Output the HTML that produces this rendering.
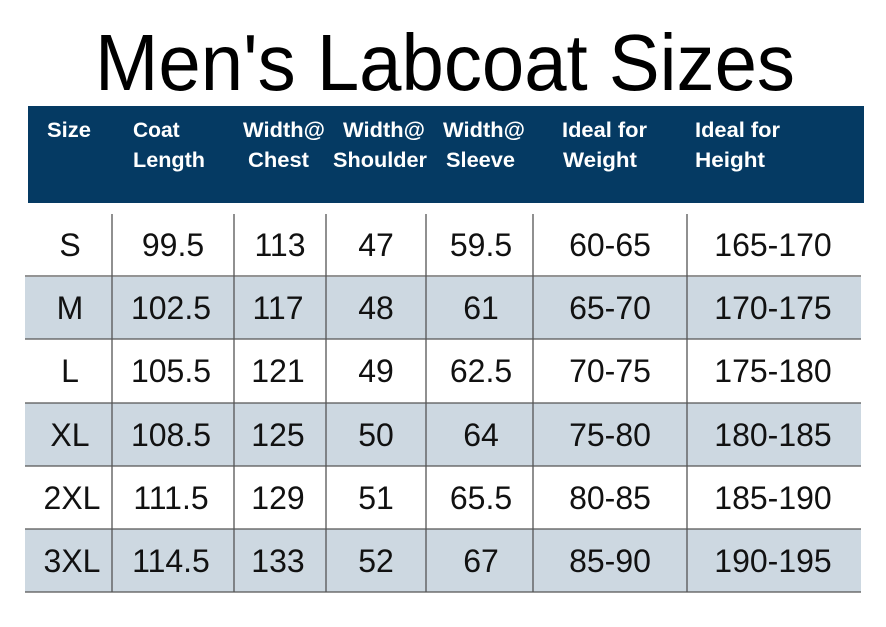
<!DOCTYPE html>
<html><head><style>body{margin:0;background:#fff}svg{display:block}</style></head>
<body>
<svg width="886" height="627" xmlns="http://www.w3.org/2000/svg" font-family="Liberation Sans, sans-serif">
<rect width="886" height="627" fill="#fff"/>
<text x="95" y="90" font-size="80" textLength="700" lengthAdjust="spacingAndGlyphs" fill="#000">Men's Labcoat Sizes</text>
<rect x="28" y="106" width="836" height="97" fill="#053a63"/>
<g fill="#fff" font-weight="bold" font-size="21">
<text x="47" y="137" textLength="44" lengthAdjust="spacingAndGlyphs">Size</text>
<text x="133" y="137">Coat</text><text x="133" y="167" textLength="72" lengthAdjust="spacingAndGlyphs">Length</text>
<text x="243" y="137" textLength="82" lengthAdjust="spacingAndGlyphs">Width@</text><text x="248" y="167" textLength="61" lengthAdjust="spacingAndGlyphs">Chest</text>
<text x="343" y="137" textLength="82" lengthAdjust="spacingAndGlyphs">Width@</text><text x="333" y="167" textLength="94" lengthAdjust="spacingAndGlyphs">Shoulder</text>
<text x="443" y="137" textLength="82" lengthAdjust="spacingAndGlyphs">Width@</text><text x="446" y="167" textLength="69" lengthAdjust="spacingAndGlyphs">Sleeve</text>
<text x="562" y="137" textLength="85" lengthAdjust="spacingAndGlyphs">Ideal for</text><text x="563" y="167" textLength="74" lengthAdjust="spacingAndGlyphs">Weight</text>
<text x="695" y="137" textLength="85" lengthAdjust="spacingAndGlyphs">Ideal for</text><text x="695" y="167" textLength="70" lengthAdjust="spacingAndGlyphs">Height</text>
</g>
<g fill="#cdd8e1">
<rect x="25" y="277" width="836" height="62"/>
<rect x="25" y="403" width="836" height="63"/>
<rect x="25" y="529" width="836" height="63"/>
</g>
<g stroke="#555" stroke-width="1.3">
<line x1="25" y1="276" x2="861" y2="276"/><line x1="25" y1="339" x2="861" y2="339"/>
<line x1="25" y1="403" x2="861" y2="403"/><line x1="25" y1="466" x2="861" y2="466"/>
<line x1="25" y1="529" x2="861" y2="529"/><line x1="25" y1="592" x2="861" y2="592"/>
<line x1="112" y1="214" x2="112" y2="592"/><line x1="234" y1="214" x2="234" y2="592"/>
<line x1="326" y1="214" x2="326" y2="592"/><line x1="426" y1="214" x2="426" y2="592"/>
<line x1="533" y1="214" x2="533" y2="592"/><line x1="687" y1="214" x2="687" y2="592"/>
</g>
<g font-size="32" fill="#111" text-anchor="middle">
<g transform="translate(0,256)"><text x="70">S</text><text x="173">99.5</text><text x="280">113</text><text x="376">47</text><text x="481">59.5</text><text x="610">60-65</text><text x="773">165-170</text></g>
<g transform="translate(0,319)"><text x="70">M</text><text x="171">102.5</text><text x="278">117</text><text x="376">48</text><text x="481">61</text><text x="610">65-70</text><text x="773">170-175</text></g>
<g transform="translate(0,382)"><text x="70">L</text><text x="171">105.5</text><text x="278">121</text><text x="376">49</text><text x="481">62.5</text><text x="610">70-75</text><text x="773">175-180</text></g>
<g transform="translate(0,446)"><text x="70">XL</text><text x="171">108.5</text><text x="278">125</text><text x="376">50</text><text x="481">64</text><text x="610">75-80</text><text x="773">180-185</text></g>
<g transform="translate(0,509)"><text x="72">2XL</text><text x="171">111.5</text><text x="278">129</text><text x="376">51</text><text x="481">65.5</text><text x="610">80-85</text><text x="773">185-190</text></g>
<g transform="translate(0,572)"><text x="72">3XL</text><text x="171">114.5</text><text x="278">133</text><text x="376">52</text><text x="481">67</text><text x="610">85-90</text><text x="773">190-195</text></g>
</g>
</svg>
</body></html>
